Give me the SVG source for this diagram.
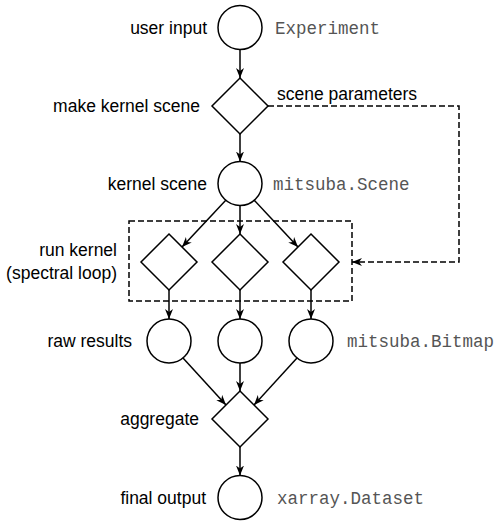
<svg xmlns="http://www.w3.org/2000/svg" width="500" height="526" viewBox="0 0 500 526">
<defs>
<marker id="ah" markerUnits="userSpaceOnUse" markerWidth="11" markerHeight="9" refX="10" refY="4" orient="auto">
<path d="M0,0 L10,4 L0,8 L3,4 z" fill="#000"/>
</marker>
<style>
.n{fill:#fff;stroke:#000;stroke-width:1.5}
.c{fill:none;stroke:#000;stroke-width:1.5;marker-end:url(#ah)}
.d{stroke-dasharray:6,3}
.t{font-family:"Liberation Sans",Arial,sans-serif;font-size:17.5px;fill:#000}
.e{text-anchor:end}
.m{font-family:"Liberation Mono","Courier New",monospace;font-size:17.5px;fill:#555}
</style>
</defs>
<rect width="500" height="526" fill="#fff"/>
<g id="loop-box">
<rect x="129" y="221" width="223" height="80" fill="none" stroke="#000" stroke-width="1.5" class="d"/>
</g>
<g id="connectors">
<line class="c" x1="240" y1="49.5" x2="240" y2="78"/>
<line class="c" x1="240" y1="134" x2="240" y2="161.5"/>
<line class="c" x1="226" y1="200" x2="182" y2="247"/>
<line class="c" x1="240" y1="205.5" x2="240" y2="234"/>
<line class="c" x1="254" y1="200" x2="298" y2="247"/>
<line class="c" x1="169" y1="290" x2="169" y2="319"/>
<line class="c" x1="240" y1="290" x2="240" y2="319"/>
<line class="c" x1="311" y1="290" x2="311" y2="319"/>
<line class="c" x1="183" y1="358" x2="226" y2="405"/>
<line class="c" x1="240" y1="363" x2="240" y2="391"/>
<line class="c" x1="297" y1="358" x2="254" y2="405"/>
<line class="c" x1="240" y1="447" x2="240" y2="475.5"/>
<polyline class="c d" points="268,106 459,106 459,262 352,262"/>
</g>
<g id="user-input"><circle class="n" cx="240" cy="27.5" r="22"/></g>
<g id="make-kernel-scene"><polygon class="n" points="240,78 268,106 240,134 212,106"/></g>
<g id="kernel-scene"><circle class="n" cx="240" cy="183.5" r="22"/></g>
<g id="run-kernel-1"><polygon class="n" points="169,234 197,262 169,290 141,262"/></g>
<g id="run-kernel-2"><polygon class="n" points="240,234 268,262 240,290 212,262"/></g>
<g id="run-kernel-3"><polygon class="n" points="311,234 339,262 311,290 283,262"/></g>
<g id="raw-result-1"><circle class="n" cx="169" cy="341" r="22"/></g>
<g id="raw-result-2"><circle class="n" cx="240" cy="341" r="22"/></g>
<g id="raw-result-3"><circle class="n" cx="311" cy="341" r="22"/></g>
<g id="aggregate"><polygon class="n" points="240,391 268,419 240,447 212,419"/></g>
<g id="final-output"><circle class="n" cx="240" cy="497.5" r="22"/></g>
<g id="labels">
<text class="t e" x="207" y="33.5">user input</text>
<text class="m" x="275" y="33.5">Experiment</text>
<text class="t e" x="200" y="112">make kernel scene</text>
<text class="t" x="277" y="100">scene parameters</text>
<text class="t e" x="207" y="189.5">kernel scene</text>
<text class="m" x="273" y="189.5">mitsuba.Scene</text>
<text class="t e" x="117" y="256">run kernel</text>
<text class="t e" x="117" y="279">(spectral loop)</text>
<text class="t e" x="132" y="347">raw results</text>
<text class="m" x="347" y="347">mitsuba.Bitmap</text>
<text class="t e" x="199" y="425">aggregate</text>
<text class="t e" x="206" y="503.5">final output</text>
<text class="m" x="277" y="503.5">xarray.Dataset</text>
</g>
</svg>
